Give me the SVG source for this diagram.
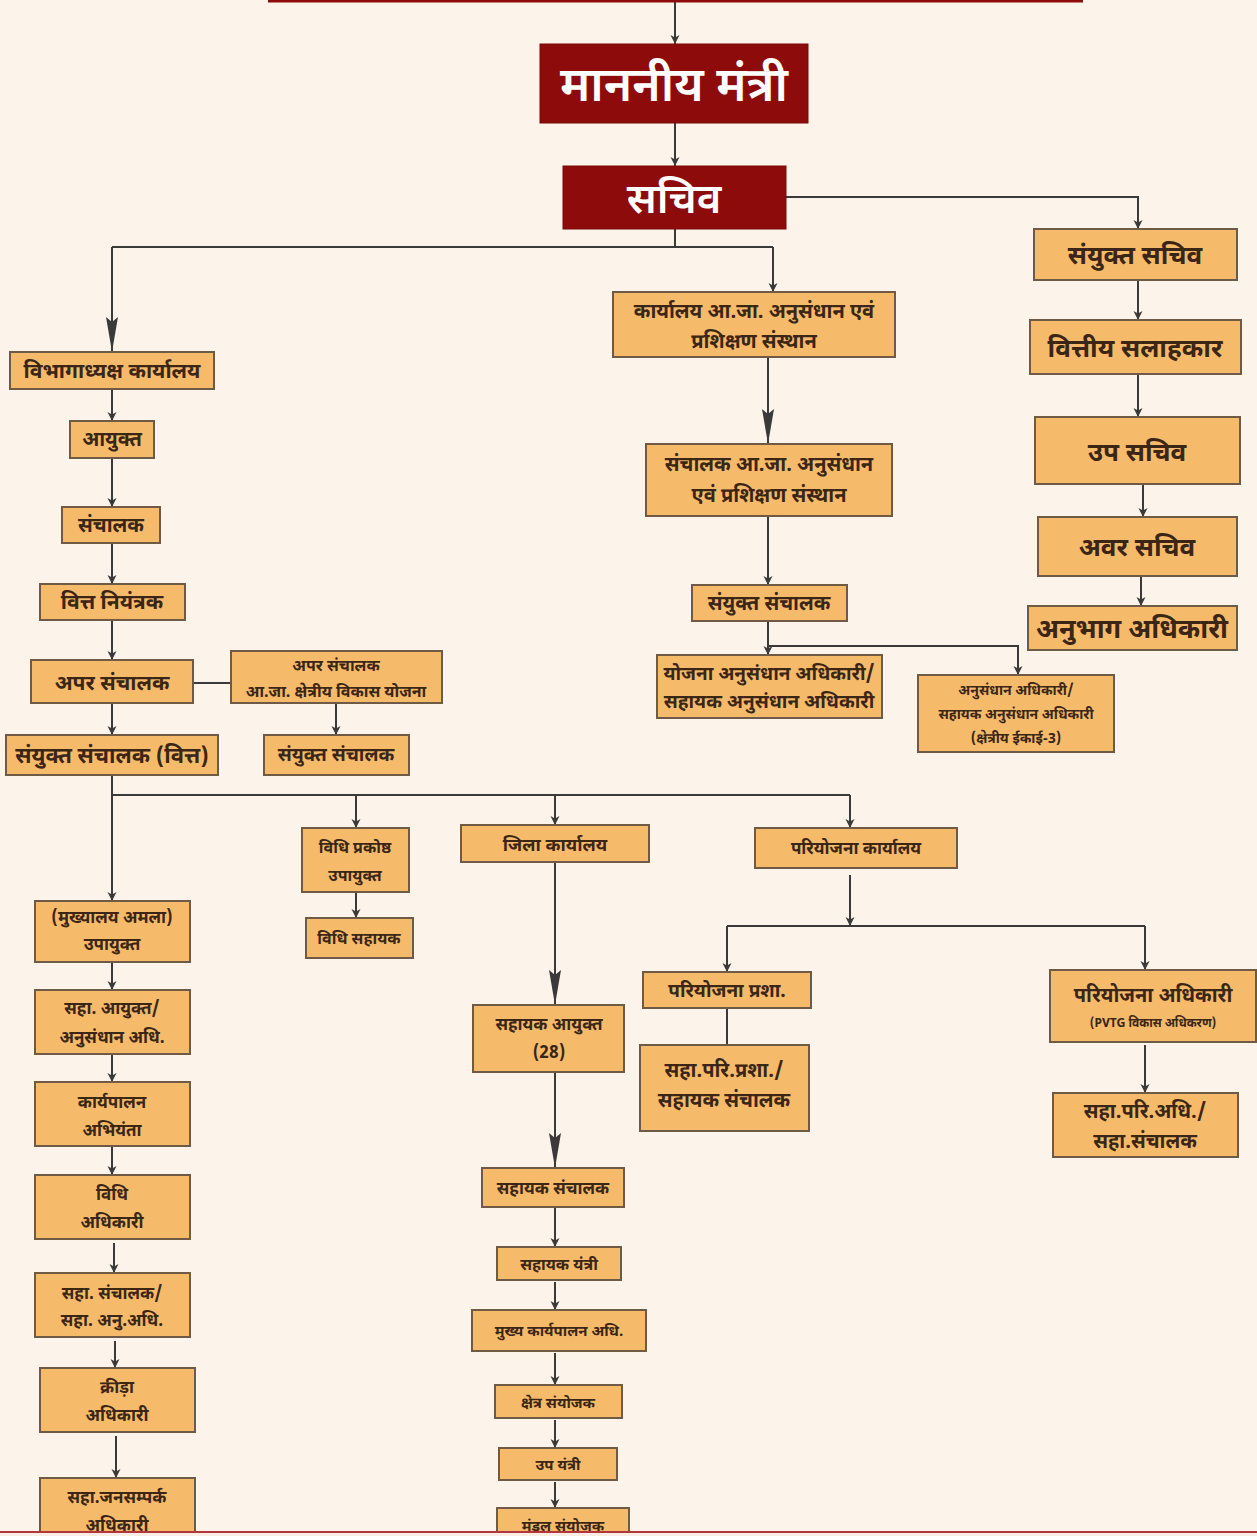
<svg xmlns="http://www.w3.org/2000/svg" width="1257" height="1536" viewBox="0 0 1257 1536">
<defs>
<style>
.n rect{fill:#f6bb6a;stroke:#6e5a45;stroke-width:2}
.m rect{fill:#8e0b0b;stroke:#7a0808;stroke-width:1}
text{font-family:"Noto Sans Devanagari","Noto Sans","Lohit Devanagari","Liberation Serif",sans-serif;text-anchor:middle;fill:#3b2616;font-weight:bold}
.m text{fill:#ffffff;font-weight:600}
#conn path{fill:none;stroke:#3c3a38;stroke-width:2}
.a{marker-end:url(#arr)}
.b{marker-end:url(#big)}
</style>
<marker id="arr" markerUnits="userSpaceOnUse" viewBox="0 -5 10 10" refX="9" refY="0" markerWidth="10" markerHeight="10" orient="auto"><path d="M0,-4.5 L9,0 L0,4.5 L2.5,0 z" fill="#3c3a38"/></marker>
<marker id="big" markerUnits="userSpaceOnUse" viewBox="0 -7 36 14" refX="35" refY="0" markerWidth="36" markerHeight="14" orient="auto"><path d="M0,-6 L35,0 L0,6 L5,0 z" fill="#3c3a38"/></marker>
</defs>
<rect x="0" y="0" width="1257" height="1536" fill="#fcf4eb"/>
<rect x="268" y="0" width="815" height="2.5" fill="#8e0b0b"/>

<g id="conn">
<path class="a" d="M675,2 V44"/>
<path class="a" d="M675,123 V166"/>
<path class="a" d="M786,197 H1138 V229"/>
<path class="a" d="M1138,280 V320"/>
<path class="a" d="M1138,374 V417"/>
<path class="a" d="M1143,484 V517"/>
<path class="a" d="M1141,576 V606"/>
<path d="M675,229 V247 M112,247 H773"/>
<path class="b" d="M112,247 V352"/>
<path class="a" d="M773,247 V292"/>
<path class="b" d="M768,357 V444"/>
<path class="a" d="M768,516 V585"/>
<path class="a" d="M768,621 V655"/>
<path class="a" d="M768,646 H1018 V675"/>
<path class="a" d="M112,389 V421"/>
<path class="a" d="M112,458 V507"/>
<path class="a" d="M112,543 V584"/>
<path class="a" d="M112,620 V660"/>
<path d="M193,683 H231"/>
<path class="a" d="M336,703 V735"/>
<path class="a" d="M112,703 V735"/>
<path class="a" d="M112,775 V901"/>
<path d="M112,795 H850"/>
<path class="a" d="M356,795 V828"/>
<path class="a" d="M555,795 V825"/>
<path class="a" d="M850,795 V828"/>
<path class="a" d="M112,962 V990"/>
<path class="a" d="M112,1054 V1082"/>
<path class="a" d="M112,1146 V1175"/>
<path class="a" d="M114,1243 V1273"/>
<path class="a" d="M115,1341 V1368"/>
<path class="a" d="M116,1436 V1478"/>
<path class="a" d="M356,892 V918"/>
<path class="b" d="M555,862 V1005"/>
<path class="b" d="M555,1072 V1168"/>
<path class="a" d="M555,1207 V1247"/>
<path class="a" d="M555,1282 V1310"/>
<path class="a" d="M555,1353 V1385"/>
<path class="a" d="M555,1420 V1448"/>
<path class="a" d="M555,1482 V1508"/>
<path class="a" d="M850,875 V926"/>
<path d="M727,926 H1145"/>
<path class="a" d="M727,926 V972"/>
<path class="a" d="M1145,926 V970"/>
<path d="M727,1008 V1045"/>
<path class="a" d="M1145,1045 V1093"/>
</g>

<g id="mantri" class="m"><rect x="540" y="44" width="268" height="79"/><text x="674" y="101" font-size="48">माननीय मंत्री</text></g>
<g id="sachiv" class="m"><rect x="563" y="166" width="223" height="63"/><text x="674" y="213" font-size="42">सचिव</text></g>

<g id="sanyukt-sachiv" class="n"><rect x="1034" y="229" width="203" height="51"/><text x="1135" y="264" font-size="26">संयुक्त सचिव</text></g>
<g id="vittiya-salahkar" class="n"><rect x="1030" y="320" width="211" height="54"/><text x="1135" y="357" font-size="26">वित्तीय सलाहकार</text></g>
<g id="up-sachiv" class="n"><rect x="1035" y="417" width="205" height="67"/><text x="1137" y="461" font-size="26">उप सचिव</text></g>
<g id="avar-sachiv" class="n"><rect x="1038" y="517" width="199" height="59"/><text x="1137" y="556" font-size="26">अवर सचिव</text></g>
<g id="anubhag-adhikari" class="n"><rect x="1028" y="606" width="209" height="44"/><text x="1132" y="638" font-size="27">अनुभाग अधिकारी</text></g>

<g id="karyalay-aja" class="n"><rect x="613" y="292" width="282" height="65"/><text x="754" y="318" font-size="20">कार्यालय आ.जा. अनुसंधान एवं</text><text x="754" y="348" font-size="20">प्रशिक्षण संस्थान</text></g>
<g id="sanchalak-aja" class="n"><rect x="646" y="444" width="246" height="72"/><text x="769" y="471" font-size="20">संचालक आ.जा. अनुसंधान</text><text x="769" y="502" font-size="20">एवं प्रशिक्षण संस्थान</text></g>
<g id="sanyukt-sanchalak-aja" class="n"><rect x="692" y="585" width="155" height="36"/><text x="769" y="610" font-size="20">संयुक्त संचालक</text></g>
<g id="yojana-anusandhan" class="n"><rect x="657" y="655" width="225" height="63"/><text x="769" y="680" font-size="19">योजना अनुसंधान अधिकारी/</text><text x="769" y="708" font-size="19">सहायक अनुसंधान अधिकारी</text></g>
<g id="anusandhan-kshetriya" class="n"><rect x="918" y="675" width="196" height="77"/><text x="1016" y="695" font-size="14">अनुसंधान अधिकारी/</text><text x="1016" y="719" font-size="14">सहायक अनुसंधान अधिकारी</text><text x="1016" y="743" font-size="14">(क्षेत्रीय ईकाई-3)</text></g>

<g id="vibhagadhyaksh" class="n"><rect x="10" y="352" width="204" height="37"/><text x="112" y="378" font-size="21">विभागाध्यक्ष कार्यालय</text></g>
<g id="ayukt" class="n"><rect x="70" y="421" width="84" height="37"/><text x="112" y="446" font-size="20">आयुक्त</text></g>
<g id="sanchalak" class="n"><rect x="62" y="507" width="98" height="36"/><text x="111" y="532" font-size="20">संचालक</text></g>
<g id="vitt-niyantrak" class="n"><rect x="40" y="584" width="145" height="36"/><text x="112" y="609" font-size="21">वित्त नियंत्रक</text></g>
<g id="apar-sanchalak" class="n"><rect x="31" y="660" width="162" height="43"/><text x="112" y="690" font-size="21">अपर संचालक</text></g>
<g id="apar-sanchalak-aja" class="n"><rect x="231" y="651" width="211" height="52"/><text x="336" y="671" font-size="16">अपर संचालक</text><text x="336" y="697" font-size="16">आ.जा. क्षेत्रीय विकास योजना</text></g>
<g id="sanyukt-sanchalak-r" class="n"><rect x="264" y="735" width="145" height="40"/><text x="336" y="761" font-size="19">संयुक्त संचालक</text></g>
<g id="sanyukt-sanchalak-vitt" class="n"><rect x="6" y="735" width="212" height="40"/><text x="112" y="763" font-size="22">संयुक्त संचालक (वित्त)</text></g>

<g id="mukhyalay" class="n"><rect x="35" y="901" width="155" height="61"/><text x="112" y="923" font-size="17">(मुख्यालय अमला)</text><text x="112" y="950" font-size="17">उपायुक्त</text></g>
<g id="saha-ayukt" class="n"><rect x="35" y="990" width="155" height="64"/><text x="112" y="1014" font-size="17">सहा. आयुक्त/</text><text x="112" y="1043" font-size="17">अनुसंधान अधि.</text></g>
<g id="karyapalan" class="n"><rect x="35" y="1082" width="155" height="64"/><text x="112" y="1108" font-size="17">कार्यपालन</text><text x="112" y="1136" font-size="17">अभियंता</text></g>
<g id="vidhi-adhikari" class="n"><rect x="35" y="1175" width="155" height="64"/><text x="112" y="1200" font-size="17">विधि</text><text x="112" y="1228" font-size="17">अधिकारी</text></g>
<g id="saha-sanchalak" class="n"><rect x="35" y="1273" width="155" height="64"/><text x="112" y="1299" font-size="17">सहा. संचालक/</text><text x="112" y="1326" font-size="17">सहा. अनु.अधि.</text></g>
<g id="krida" class="n"><rect x="40" y="1368" width="155" height="64"/><text x="117" y="1393" font-size="17">क्रीड़ा</text><text x="117" y="1421" font-size="17">अधिकारी</text></g>
<g id="jansampark" class="n"><rect x="40" y="1478" width="155" height="70"/><text x="117" y="1503" font-size="17">सहा.जनसम्पर्क</text><text x="117" y="1531" font-size="17">अधिकारी</text></g>

<g id="vidhi-prakoshth" class="n"><rect x="302" y="828" width="107" height="64"/><text x="355" y="853" font-size="16">विधि प्रकोष्ठ</text><text x="355" y="881" font-size="16">उपायुक्त</text></g>
<g id="vidhi-sahayak" class="n"><rect x="306" y="918" width="107" height="40"/><text x="359" y="944" font-size="16">विधि सहायक</text></g>

<g id="jila-karyalay" class="n"><rect x="461" y="825" width="188" height="37"/><text x="555" y="851" font-size="18">जिला कार्यालय</text></g>
<g id="sahayak-ayukt" class="n"><rect x="473" y="1005" width="151" height="67"/><text x="549" y="1030" font-size="17">सहायक आयुक्त</text><text x="549" y="1058" font-size="17">(28)</text></g>
<g id="sahayak-sanchalak" class="n"><rect x="482" y="1168" width="142" height="39"/><text x="553" y="1194" font-size="17">सहायक संचालक</text></g>
<g id="sahayak-yantri" class="n"><rect x="497" y="1247" width="124" height="33"/><text x="559" y="1270" font-size="16">सहायक यंत्री</text></g>
<g id="mukhya-karyapalan" class="n"><rect x="472" y="1310" width="174" height="41"/><text x="559" y="1336" font-size="15">मुख्य कार्यपालन अधि.</text></g>
<g id="kshetra-sanyojak" class="n"><rect x="495" y="1385" width="127" height="33"/><text x="558" y="1408" font-size="15">क्षेत्र संयोजक</text></g>
<g id="up-yantri" class="n"><rect x="499" y="1448" width="118" height="32"/><text x="558" y="1470" font-size="15">उप यंत्री</text></g>
<g id="mandal-sanyojak" class="n"><rect x="497" y="1508" width="132" height="40"/><text x="563" y="1531" font-size="15">मंडल संयोजक</text></g>

<g id="pariyojana-karyalay" class="n"><rect x="755" y="828" width="202" height="40"/><text x="856" y="854" font-size="17">परियोजना कार्यालय</text></g>
<g id="pariyojana-prasha" class="n"><rect x="643" y="972" width="168" height="36"/><text x="727" y="997" font-size="19">परियोजना प्रशा.</text></g>
<g id="saha-pari-prasha" class="n"><rect x="640" y="1045" width="169" height="86"/><text x="724" y="1077" font-size="20">सहा.परि.प्रशा./</text><text x="724" y="1107" font-size="20">सहायक संचालक</text></g>
<g id="pariyojana-adhikari" class="n"><rect x="1050" y="970" width="206" height="72"/><text x="1153" y="1002" font-size="20">परियोजना अधिकारी</text><text x="1153" y="1027" font-size="12">(PVTG विकास अधिकरण)</text></g>
<g id="saha-pari-adhi" class="n"><rect x="1053" y="1093" width="185" height="64"/><text x="1145" y="1118" font-size="20">सहा.परि.अधि./</text><text x="1145" y="1148" font-size="20">सहा.संचालक</text></g>

<rect x="0" y="1532" width="1257" height="4" fill="#f9ede6"/>
<rect x="0" y="1531" width="1257" height="2" fill="#b3363a"/>
</svg>
